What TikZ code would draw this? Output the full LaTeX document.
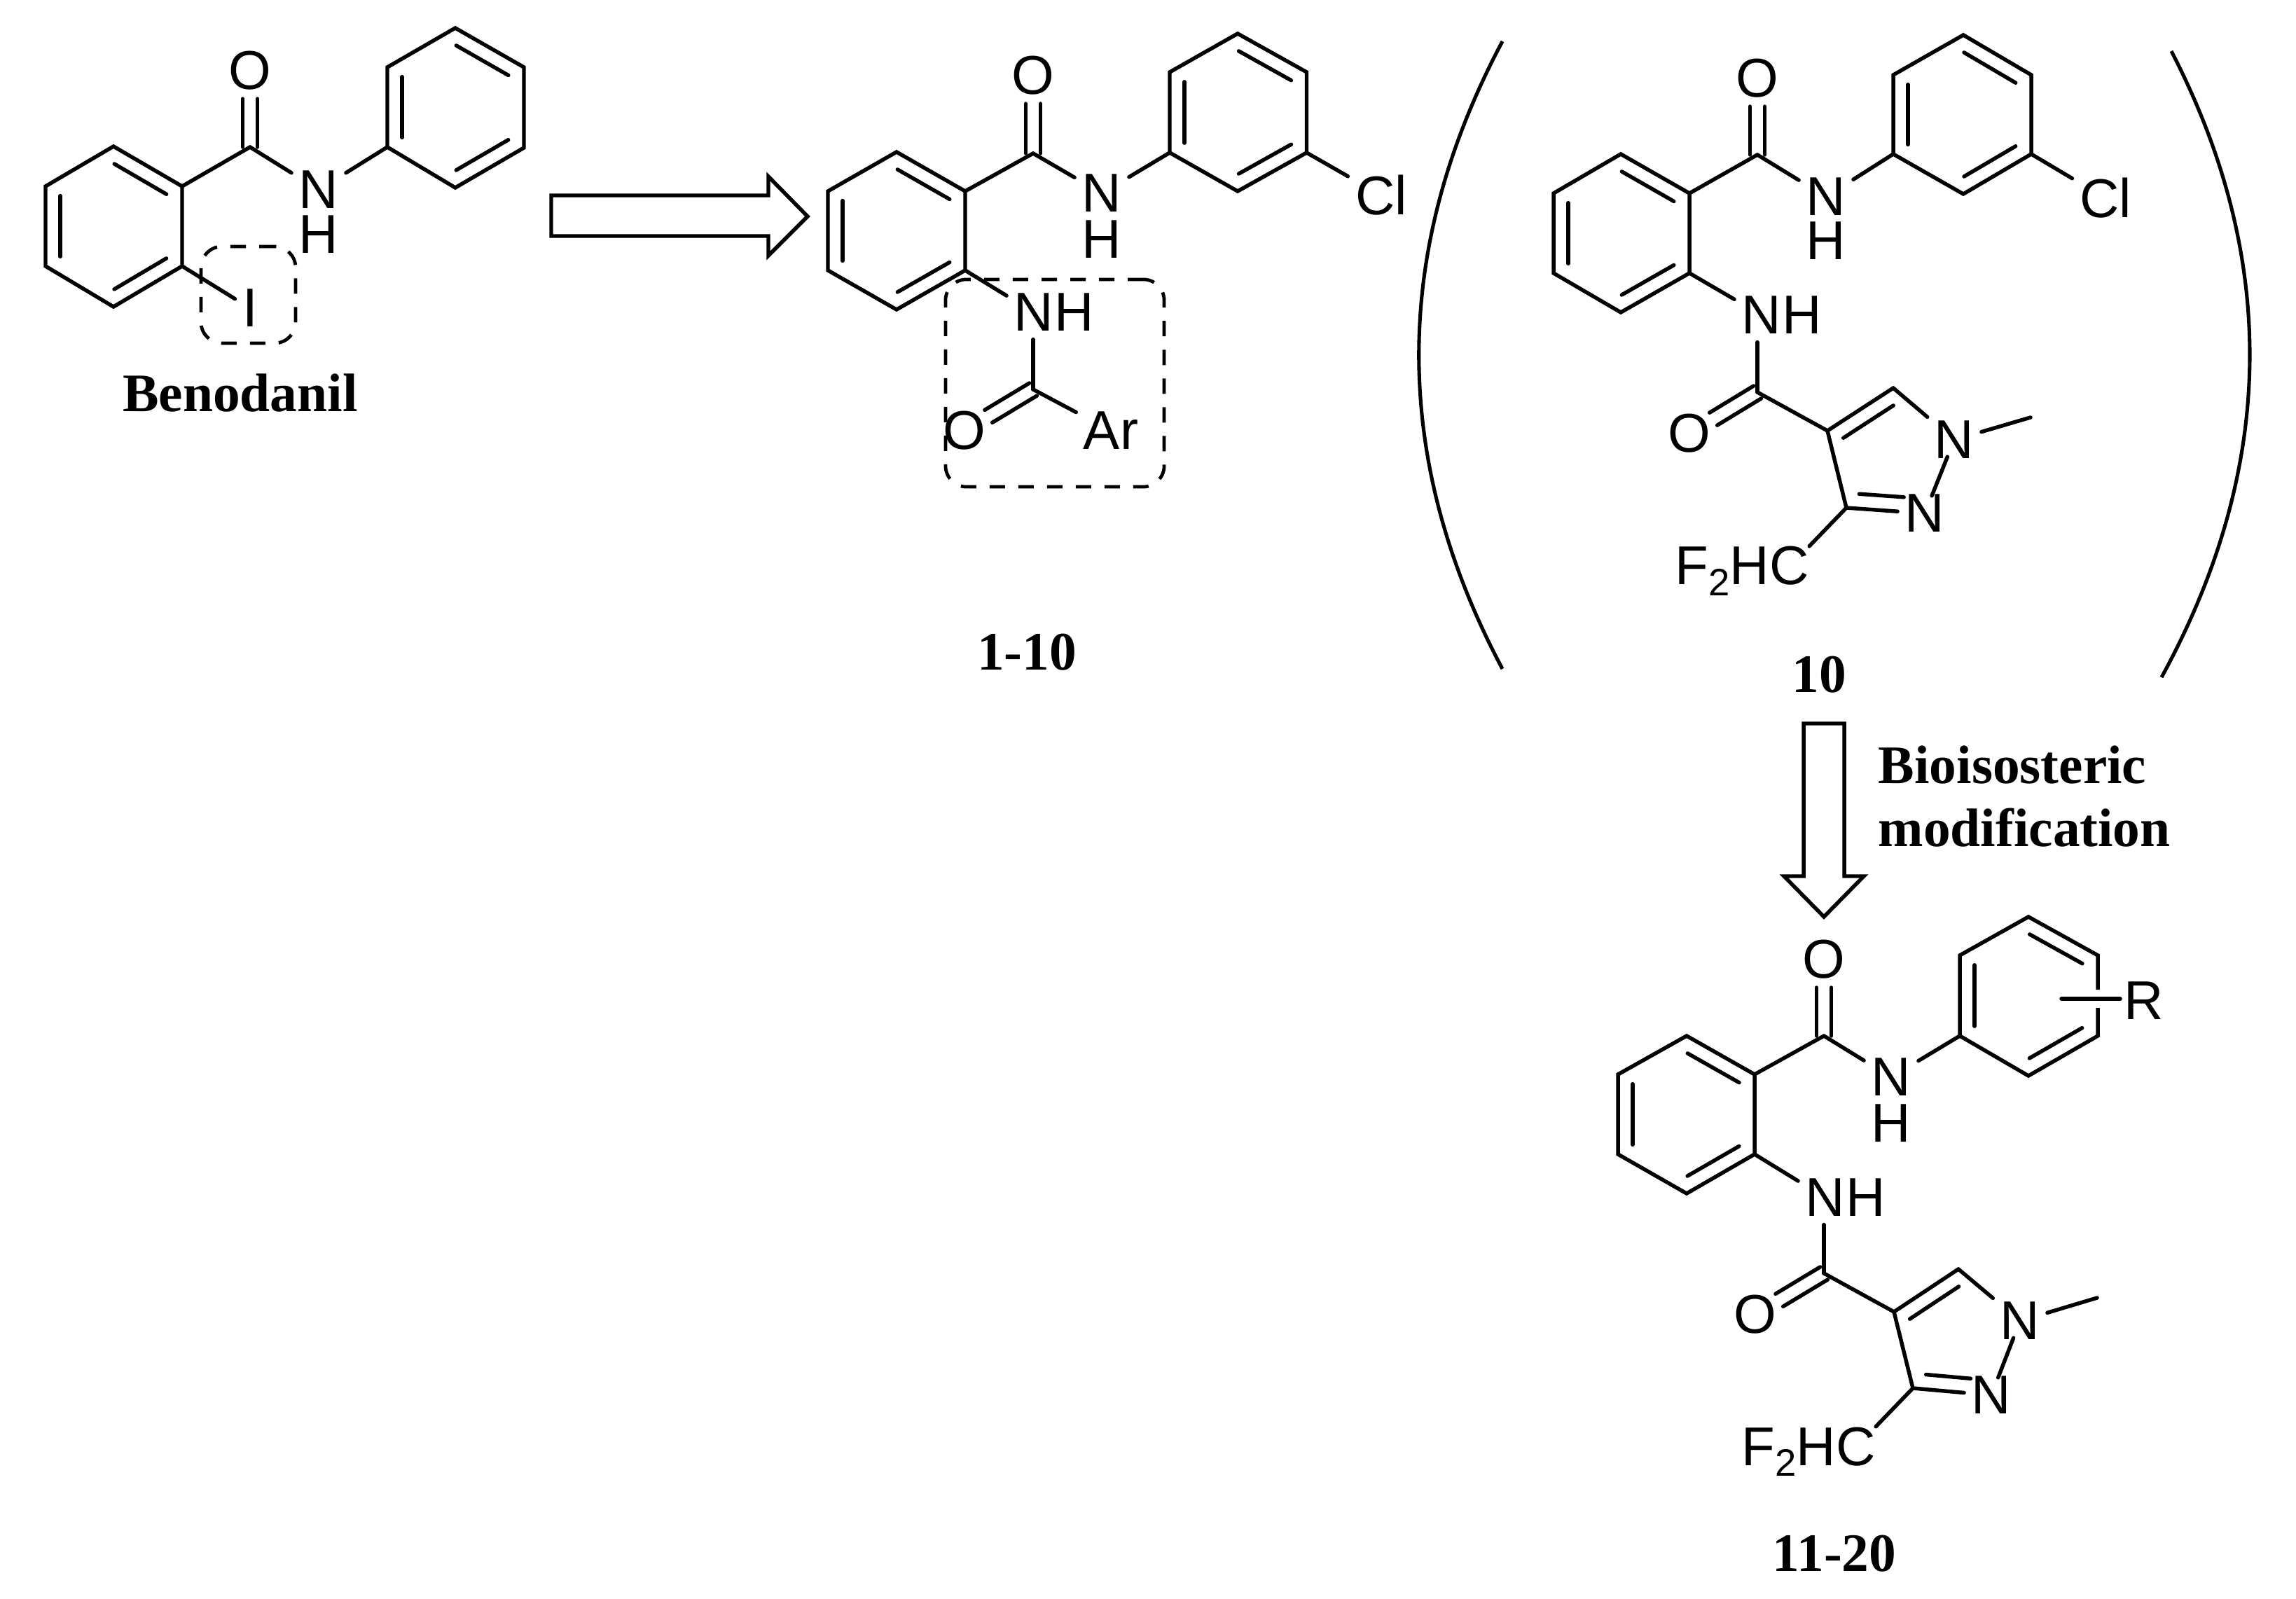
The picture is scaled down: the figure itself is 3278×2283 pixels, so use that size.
\documentclass[tikz,border=0pt]{standalone}
\usepackage{fontspec}
\setmainfont{Liberation Sans}
\newfontfamily\lblfont{Liberation Serif}
\usetikzlibrary{calc}
\newcommand\inb[4][.12]{%
  \pgfmathsetmacro\inbe{#4}%
  \draw[bond] ($(#2)!#1!(#3)!.21cm!90:(#3)$) -- ($(#2)!\inbe!(#3)!.21cm!90:(#3)$);}
\newcommand\benzene[7]{%
  \coordinate (#1a) at #2; \coordinate (#1b) at #3; \coordinate (#1c) at #4;
  \coordinate (#1d) at #5; \coordinate (#1e) at #6; \coordinate (#1f) at #7;
  \draw[bond] (#1a) -- (#1b) -- (#1c) -- (#1d) -- (#1e) -- (#1f) -- cycle;
  \inb{#1f}{#1a}{.88}\inb{#1b}{#1c}{.88}\inb{#1d}{#1e}{.88}}
\newcommand\carbonyl[2]{%
  \draw[bond,shorten >=.4cm] ($(#1)!.105cm!90:(#2)$) -- ($(#2)!.105cm!-90:(#1)$);
  \draw[bond,shorten >=.4cm] ($(#1)!.105cm!-90:(#2)$) -- ($(#2)!.105cm!90:(#1)$);}
\tikzset{
  bond/.style={line width=1.55pt,line cap=round,line join=miter},
  atom/.style={font=\fontsize{22.2}{24}\selectfont,inner xsep=.1cm,inner ysep=.05cm},
  plain/.style={font=\fontsize{22.2}{24}\selectfont,inner sep=0pt},
  lbl/.style={font=\fontsize{22}{24}\selectfont\lblfont\bfseries,inner sep=0pt},
  dashbox/.style={line width=1.35pt,dash pattern=on .22cm off .19cm,rounded corners=.3cm},
  blockarrow/.style={line width=1.55pt,line join=miter,fill=white},
  paren/.style={line width=1.45pt}
}
\newcommand\difluoro{F\raisebox{-4.5pt}{\fontsize{15.5}{16}\selectfont 2}HC}
\begin{document}
\begin{tikzpicture}[x=.01cm,y=-.01cm]
\fill[white] (0,0) rectangle (3278,2283);
\useasboundingbox (0,0) rectangle (3278,2283);

% ---------- Benodanil
\benzene{pa}{(162,209)}{(65,266)}{(65,380)}{(162,438)}{(260,380)}{(260,266)}
\benzene{pb}{(650,40)}{(553,96)}{(553,210)}{(650,268)}{(748,211)}{(748,96)}
\coordinate (pC) at (357,210);
\node[atom] (pO) at (357,101) {O};
\node[atom] (pN) at (455,271) {N};
\node[plain] (pH) at (455,335) {H};
\node[atom] (pI) at (357,440) {I};
\carbonyl{pC}{pO}
\draw[bond] (paf) -- (pC);
\draw[bond] (pC) -- (pN);
\draw[bond] (pN) -- (pbc);
\draw[bond] (pae) -- (pI);
\node[draw,dashbox,minimum width=1.35cm,minimum height=1.38cm,inner sep=0pt] (pbox) at (354.5,421) {};
\node[lbl] (pname) at (343,561) {Benodanil};

% ---------- first block arrow
\draw[blockarrow] (787,279) -- (1097,279) -- (1097,252) -- (1153,309) -- (1097,365) -- (1097,337) -- (787,337) -- cycle;

% ---------- compounds 1-10
\benzene{qa}{(1280,217)}{(1182,273)}{(1182,386)}{(1280,442)}{(1378,386)}{(1378,273)}
\benzene{qb}{(1767,48)}{(1670,103)}{(1670,218)}{(1767,273)}{(1865.5,218)}{(1865.5,103)}
\coordinate (qC) at (1475,219);
\coordinate (qD) at (1475,556);
\node[atom] (qO) at (1475,108) {O};
\node[atom] (qN) at (1573,276) {N};
\node[plain] (qH) at (1573,342) {H};
\node[atom] (qCl) at (1972,279) {Cl};
\node[atom] (qM) at (1476,446) {N};
\node[plain,anchor=west] (qMH) at (qM.east) {\kern-.1cm H};
\node[atom] (qP) at (1377,615) {O};
\node[atom] (qAr) at (1586,615) {Ar};
\carbonyl{qC}{qO}
\carbonyl{qD}{qP}
\draw[bond] (qaf) -- (qC);
\draw[bond] (qC) -- (qN);
\draw[bond] (qN) -- (qbc);
\draw[bond] (qbe) -- (qCl);
\draw[bond] (qae) -- (qM);
\draw[bond,shorten >=.06cm] (qD) -- (qD |- qM.south);
\draw[bond] (qD) -- (qAr);
\node[draw,dashbox,minimum width=3.12cm,minimum height=2.96cm,inner sep=0pt] (qbox) at (1506,547) {};
\node[lbl] (qname) at (1466,931) {1-10};

% ---------- bracketed compound 10
\coordinate (la) at (2145,59);
\coordinate (lb) at (2145,955);
\draw[paren] (la) .. controls (1986,358) and (1986,656) .. (lb);
\coordinate (ra) at (3100,73);
\coordinate (rb) at (3086,967);
\draw[paren] (ra) .. controls (3254,371) and (3249,669) .. (rb);

\benzene{ra}{(2314,220)}{(2218,276)}{(2218,390)}{(2314,446)}{(2412,390)}{(2412,276)}
\benzene{rb}{(2803,50)}{(2703,107)}{(2703,220)}{(2803,277)}{(2900,220)}{(2900,107)}
\coordinate (rC) at (2509,221);
\coordinate (rD) at (2509,560);
\coordinate (rC4) at (2609,615);
\coordinate (rC5) at (2703,554);
\coordinate (rC3) at (2636,725);
\coordinate (rMe) at (2899,596);
\node[atom] (rO) at (2509,112) {O};
\node[atom] (rN) at (2607,281) {N};
\node[plain] (rH) at (2607,344) {H};
\node[atom] (rCl) at (3006,283) {Cl};
\node[atom] (rM) at (2515,450) {N};
\node[plain,anchor=west] (rMH) at (rM.east) {\kern-.1cm H};
\node[atom] (rP) at (2412,619) {O};
\node[atom] (rN1) at (2790,628) {N};
\node[atom] (rN2) at (2748,733) {N};
\node[plain,anchor=base west] (rF) at (2391,835) {\difluoro};
\carbonyl{rC}{rO}
\carbonyl{rD}{rP}
\draw[bond] (raf) -- (rC);
\draw[bond] (rC) -- (rN);
\draw[bond] (rN) -- (rbc);
\draw[bond] (rbe) -- (rCl);
\draw[bond] (rae) -- (rM);
\draw[bond,shorten >=.06cm] (rD) -- (rD |- rM.south);
\draw[bond] (rD) -- (rC4);
\draw[bond] (rC4) -- (rC5);
\inb{rC5}{rC4}{.88}
\draw[bond] (rC5) -- (rN1);
\draw[bond] (rN1) -- (rMe);
\draw[bond,shorten <=-.09cm,shorten >=-.08cm] (rN1) -- (rN2);
\draw[bond] (rC3) -- (rN2);
\inb[.15]{rC3}{rN2}{.72}
\draw[bond] (rC4) -- (rC3);
\draw[bond] (rC3) -- (rF.north east);
\node[lbl] (rname) at (2597,963) {10};

% ---------- second block arrow
\draw[blockarrow] (2575,1033) -- (2633,1033) -- (2633,1251) -- (2661,1251) -- (2604,1309) -- (2547,1251) -- (2575,1251) -- cycle;
\node[lbl,anchor=base west] (bio) at (2681,1119) {Bioisosteric};
\node[lbl,anchor=base west] (mod) at (2681,1209) {modification};

% ---------- compounds 11-20
\benzene{sa}{(2408,1479)}{(2310,1534)}{(2310,1648)}{(2408,1704)}{(2505,1648)}{(2505,1534)}
\benzene{sb}{(2896,1309)}{(2798,1364)}{(2798,1479)}{(2896,1536)}{(2995,1479)}{(2995,1364)}
\coordinate (sC) at (2604,1479);
\coordinate (sD) at (2604,1818);
\coordinate (sC4) at (2704,1873);
\coordinate (sC5) at (2796,1812);
\coordinate (sC3) at (2731,1982);
\coordinate (sMe) at (2994,1853);
\coordinate (sRs) at (2943,1426);
\coordinate (sRe) at (3027,1426);
\node[atom] (sO) at (2604,1370) {O};
\node[atom] (sN) at (2700,1538) {N};
\node[plain] (sH) at (2700,1604) {H};
\node[atom] (sR) at (3061,1429) {R};
\node[atom] (sM) at (2606,1710) {N};
\node[plain,anchor=west] (sMH) at (sM.east) {\kern-.1cm H};
\node[atom] (sP) at (2506,1877) {O};
\node[atom] (sN1) at (2884,1886) {N};
\node[atom] (sN2) at (2843,1992) {N};
\node[plain,anchor=base west] (sF) at (2486,2092) {\difluoro};
\carbonyl{sC}{sO}
\carbonyl{sD}{sP}
\draw[bond] (saf) -- (sC);
\draw[bond] (sC) -- (sN);
\draw[bond] (sN) -- (sbc);
\draw[white,line width=.26cm] ($(sRs -| sbe)+(-6,0)$) -- ($(sRs -| sbe)+(6,0)$);
\draw[bond] (sRs) -- (sRe);
\draw[bond] (sae) -- (sM);
\draw[bond,shorten >=.06cm] (sD) -- (sD |- sM.south);
\draw[bond] (sD) -- (sC4);
\draw[bond] (sC4) -- (sC5);
\inb{sC5}{sC4}{.88}
\draw[bond] (sC5) -- (sN1);
\draw[bond] (sN1) -- (sMe);
\draw[bond,shorten <=-.09cm,shorten >=-.08cm] (sN1) -- (sN2);
\draw[bond] (sC3) -- (sN2);
\inb[.15]{sC3}{sN2}{.72}
\draw[bond] (sC4) -- (sC3);
\draw[bond] (sC3) -- (sF.north east);
\node[lbl] (sname) at (2619,2218) {11-20};
\end{tikzpicture}
\end{document}
